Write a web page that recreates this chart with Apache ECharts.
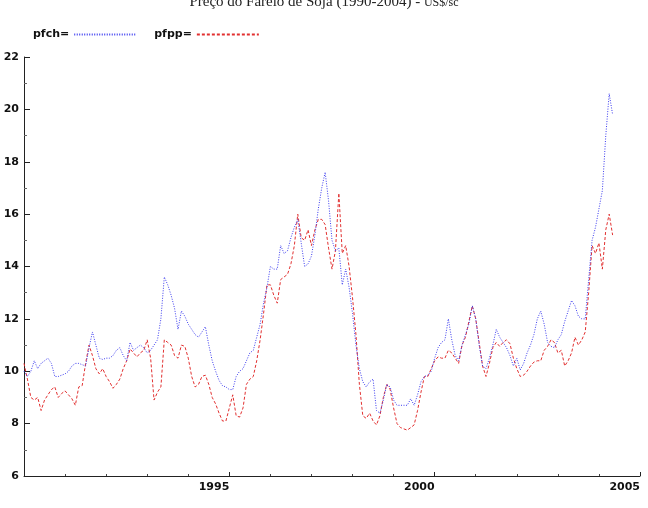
<!DOCTYPE html>
<html>
<head>
<meta charset="utf-8">
<script src="https://cdn.jsdelivr.net/npm/echarts@6/dist/echarts.min.js"></script>
<style>html,body{margin:0;padding:0;background:#fff}#c{width:648px;height:508px}</style>
</head>
<body>
<div id="c"></div>
<script>
// Monthly series, starting January 1990
const startYear = 1990;
const seriesNames = ['pfch', 'pfpp'];
const pfch = [
10.0,9.8,10.0,10.4,10.1,10.3,10.4,10.5,10.3,9.8,9.8,9.85,
9.9,10.0,10.2,10.3,10.3,10.25,10.2,10.9,11.5,11.0,10.5,10.45,
10.5,10.5,10.6,10.8,10.9,10.6,10.4,11.1,10.8,10.9,11.0,10.9,
10.7,10.8,11.0,11.2,12.0,13.6,13.3,12.9,12.4,11.6,12.3,12.1,
11.8,11.6,11.4,11.3,11.5,11.7,11.0,10.4,10.0,9.65,9.45,9.4,
9.3,9.3,9.8,10.0,10.1,10.4,10.7,10.8,11.3,11.8,12.6,13.2,
14.0,13.9,13.9,14.8,14.5,14.6,15.1,15.5,15.8,14.9,14.0,14.1,
14.4,15.2,16.2,17.0,17.6,16.5,15.0,14.6,14.7,13.3,13.9,13.2,
12.2,11.0,10.1,9.6,9.4,9.6,9.7,8.5,8.4,8.9,9.5,9.4,
8.9,8.7,8.7,8.7,8.7,8.95,8.7,9.1,9.6,9.8,9.85,10.0,
10.5,10.9,11.1,11.2,12.0,11.2,10.6,10.4,11.0,11.4,11.8,12.5,
12.0,11.0,10.2,10.1,10.5,11.0,11.6,11.3,11.1,10.9,10.6,10.2,
10.5,10.05,10.3,10.7,11.0,11.4,12.0,12.3,11.8,11.1,10.95,10.9,
11.2,11.4,11.9,12.3,12.7,12.5,12.1,12.0,12.0,13.5,15.0,15.5,
16.2,16.9,19.0,20.6,19.8
];
const pfpp = [
10.3,9.7,9.0,8.9,9.0,8.5,8.9,9.1,9.3,9.4,9.0,9.15,
9.25,9.1,8.95,8.7,9.4,9.45,10.3,11.0,10.6,10.1,9.9,10.1,
9.8,9.6,9.35,9.5,9.7,10.1,10.4,10.85,10.7,10.55,10.7,10.8,
11.2,10.5,8.9,9.2,9.4,11.2,11.1,11.0,10.6,10.5,11.0,10.95,
10.5,9.8,9.4,9.5,9.8,9.85,9.5,9.0,8.75,8.4,8.1,8.1,
8.6,9.1,8.3,8.25,8.6,9.5,9.7,9.8,10.4,11.2,12.2,13.3,
13.3,12.9,12.6,13.5,13.6,13.7,14.1,14.8,16.0,15.1,15.0,15.4,
14.8,15.4,15.8,15.8,15.6,14.7,13.9,14.6,16.8,14.5,14.8,14.0,
12.8,11.4,9.5,8.3,8.2,8.4,8.1,7.95,8.3,9.0,9.5,9.3,
8.6,8.0,7.85,7.8,7.75,7.85,7.95,8.5,9.2,9.8,9.8,10.1,
10.4,10.55,10.5,10.5,10.8,10.7,10.5,10.3,11.0,11.3,11.9,12.5,
12.0,11.1,10.2,9.8,10.3,10.9,11.1,10.95,11.1,11.2,11.05,10.5,
10.1,9.8,9.85,10.0,10.2,10.35,10.4,10.4,10.8,10.95,11.2,11.1,
10.7,10.8,10.2,10.4,10.7,11.3,11.0,11.2,11.5,13.0,14.8,14.5,
14.9,13.9,15.4,16.0,15.2
];
const xTickLabels = ['1995', '2000', '2005'];
const yTickLabels = ['6','8','10','12','14','16','18','20','22'];

function toPoints(arr) {
  return arr.map((v, i) => [startYear + i / 12, v]);
}

const labelFont = { fontFamily: 'DejaVu Sans', fontWeight: 'bold', fontSize: 11, color: '#111' };

const chart = echarts.init(document.getElementById('c'), null, { renderer: 'canvas' });
chart.setOption({
  animation: false,
  backgroundColor: '#fff',
  title: {
    text: '{a|Preço do Farelo de Soja (1990-2004) - }{b|US$/sc}',
    left: 'center',
    top: -5,
    padding: 0,
    textStyle: {
      fontWeight: 'normal',
      rich: {
        a: { fontFamily: 'Liberation Serif', fontWeight: 'normal', fontSize: 15, color: '#222' },
        b: { fontFamily: 'Liberation Serif', fontWeight: 'normal', fontSize: 12, color: '#222' }
      }
    }
  },
  legend: {
    left: 33,
    top: 29,
    padding: 0,
    align: 'right',
    itemWidth: 62,
    itemHeight: 10,
    itemGap: 17,
    formatter: n => n + '=',
    textStyle: Object.assign({}, labelFont),
    data: seriesNames.map(n => ({ name: n, itemStyle: { opacity: 0 } }))
  },
  grid: { left: 24, right: 8, top: 57, bottom: 32, containLabel: false },
  xAxis: {
    type: 'value',
    min: 1990,
    max: 2005,
    interval: 5,
    axisLine: { show: true, lineStyle: { color: '#222', width: 1 } },
    axisTick: { show: true, inside: true, length: 4, lineStyle: { color: '#222' } },
    minorTick: { show: true, splitNumber: 5, length: 2, lineStyle: { color: '#444' } },
    splitLine: { show: false },
    axisLabel: Object.assign({}, labelFont, {
      margin: 6,
      align: 'right',
      formatter: v => (xTickLabels.indexOf(String(Math.round(v))) >= 0 ? String(Math.round(v)) : '')
    })
  },
  yAxis: {
    type: 'value',
    min: 6,
    max: 22,
    interval: 2,
    axisLine: { show: true, lineStyle: { color: '#222', width: 1 } },
    axisTick: { show: true, inside: true, length: 6, lineStyle: { color: '#222' } },
    minorTick: { show: true, splitNumber: 2, length: 3, lineStyle: { color: '#666' } },
    splitLine: { show: false },
    axisLabel: Object.assign({}, labelFont, {
      margin: 5,
      formatter: v => (yTickLabels.indexOf(String(v)) >= 0 ? String(v) : '')
    })
  },
  series: [
    {
      name: seriesNames[0],
      type: 'line',
      data: toPoints(pfch),
      showSymbol: false,
      symbol: 'none',
      lineStyle: { color: '#3c3cf0', width: 1, type: [1, 1.5] },
      itemStyle: { color: '#3c3cf0' },
      z: 3
    },
    {
      name: seriesNames[1],
      type: 'line',
      data: toPoints(pfpp),
      showSymbol: false,
      symbol: 'none',
      lineStyle: { color: '#e23030', width: 1, type: [3, 2] },
      itemStyle: { color: '#e23030' },
      z: 2
    }
  ]
});
</script>
</body>
</html>
